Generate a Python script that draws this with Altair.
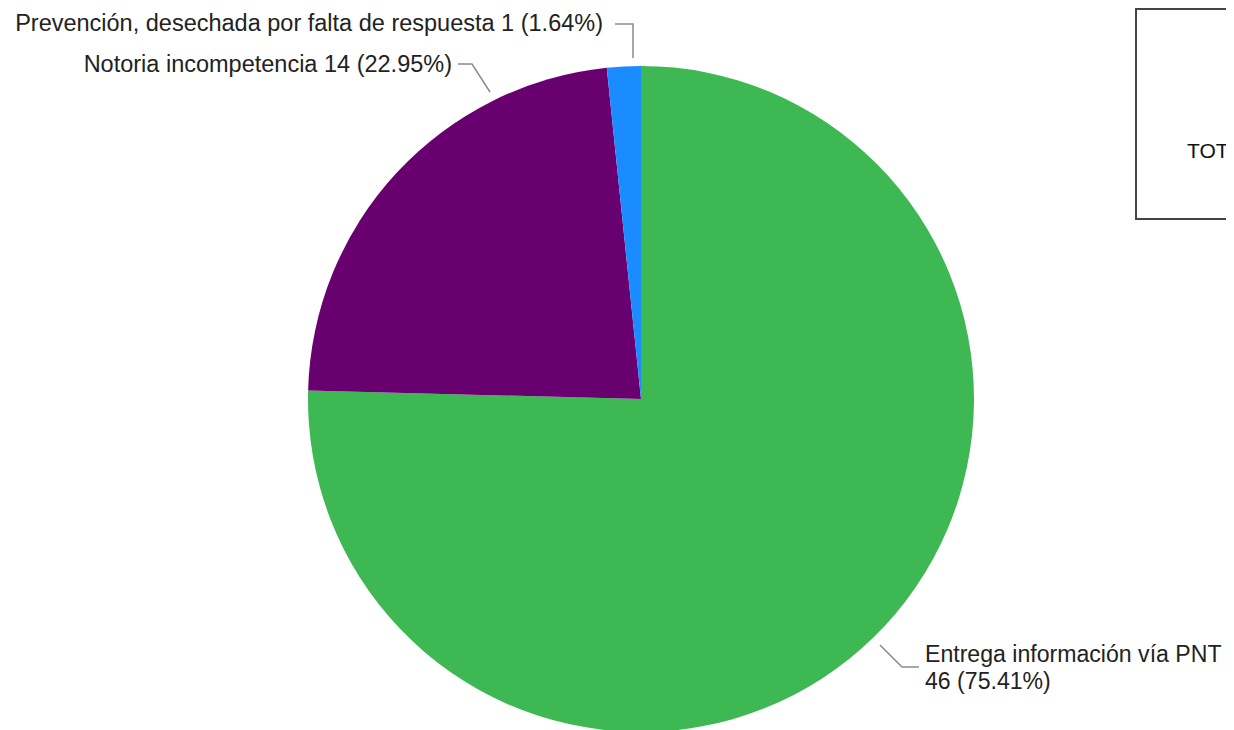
import altair as alt
import pandas as pd

# ---- data ----
categories = ["Entrega información vía PNT", "Notoria incompetencia",
              "Prevención, desechada por falta de respuesta"]
values = [46, 14, 1]
colors = ["#3db853", "#690070", "#1a8cff"]

total = sum(values)
pcts = [v / total * 100 for v in values]

df = pd.DataFrame({"category": categories, "value": values,
                   "order": list(range(len(categories)))})

# ---- layout (annotation placement, chart pixel coords) ----
W, H = 1218, 722
CX, CY, R = 633, 391, 333
FONT = "Liberation Sans"
FS = 23.5

label_lines = [
    # (text, x, y, align, size)
    (f"{categories[2]} {values[2]} ({pcts[2]:.2f}%)", 595, 16, "right", FS),
    (f"{categories[1]} {values[1]} ({pcts[1]:.2f}%)", 444, 57, "right", FS),
    (f"{categories[0]}", 917, 647, "left", 23.1),
    (f"{values[0]} ({pcts[0]:.2f}%)", 917, 674, "left", 23.1),
]
lab = pd.DataFrame(label_lines, columns=["text", "px", "py", "align", "size"])

leaders = [
    ("p", 0, 607, 16), ("p", 1, 625, 16), ("p", 2, 625, 50),
    ("n", 0, 450, 56), ("n", 1, 464, 56), ("n", 2, 482, 84),
    ("e", 0, 872, 637), ("e", 1, 894, 659), ("e", 2, 911, 659),
]
lead = pd.DataFrame(leaders, columns=["seg", "i", "px", "py"])

pie = alt.Chart(df).mark_arc(outerRadius=R).encode(
    theta=alt.Theta("value:Q", stack=True),
    color=alt.Color("category:N", scale=alt.Scale(domain=categories, range=colors), legend=None),
    order=alt.Order("order:Q"),
    x=alt.value(CX), y=alt.value(CY),
)

lines = alt.Chart(lead).mark_line(color="#8a8a8a", strokeWidth=1.5).encode(
    x=alt.X("px:Q", scale=None, axis=None),
    y=alt.Y("py:Q", scale=None, axis=None),
    detail="seg:N",
    order="i:Q",
)

txt_r = alt.Chart(lab[lab["align"] == "right"]).mark_text(
    font=FONT, align="right", baseline="middle", color="#222222"
).encode(x=alt.X("px:Q", scale=None, axis=None), y=alt.Y("py:Q", scale=None, axis=None),
         text="text:N", size=alt.Size("size:Q", scale=None))

txt_l = alt.Chart(lab[lab["align"] == "left"]).mark_text(
    font=FONT, align="left", baseline="middle", color="#222222"
).encode(x=alt.X("px:Q", scale=None, axis=None), y=alt.Y("py:Q", scale=None, axis=None),
         text="text:N", size=alt.Size("size:Q", scale=None))

box_df = pd.DataFrame({"t": [f"TOTAL: {total}"]})
box = alt.Chart(box_df).mark_rect(fill="white", stroke="#444444", strokeWidth=2).encode(
    x=alt.value(1128), x2=alt.value(1320), y=alt.value(1), y2=alt.value(211)
)
box_txt = alt.Chart(box_df).mark_text(
    font=FONT, fontSize=21, align="left", baseline="middle", color="#111111"
).encode(x=alt.value(1179), y=alt.value(144), text="t:N")

chart = alt.layer(pie, lines, txt_r, txt_l, box, box_txt).properties(
    width=W, height=H, autosize=alt.AutoSizeParams(type="none"), padding=0
).configure_view(stroke=None)

chart.save("out.html", embed_options={"renderer": "svg", "actions": False})
